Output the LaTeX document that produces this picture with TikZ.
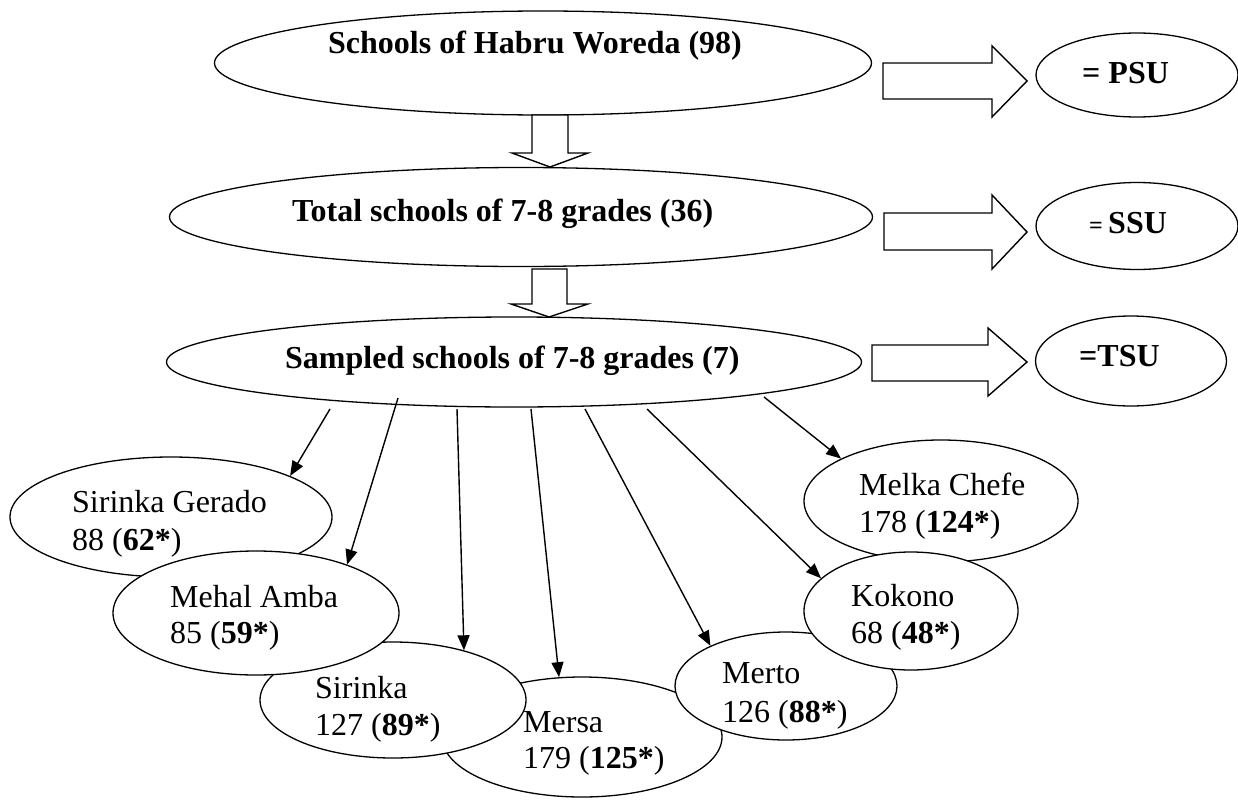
\documentclass[tikz,border=0pt]{standalone}
\usepackage{fontspec}
\setmainfont{Liberation Serif}
\usetikzlibrary{shapes.geometric,arrows.meta}
\tikzset{
  ell/.style={draw, ellipse, fill=white, line width=1.3pt, inner sep=0pt},
  blk/.style={draw, fill=white, line width=1.4pt, line join=miter},
  big/.style={inner sep=0pt, anchor=base west, font=\fontsize{32}{38}\selectfont\bfseries},
  lbl/.style={inner sep=0pt, anchor=base west, font=\fontsize{32}{38}\selectfont},
  con/.style={line width=1.4pt, -{Triangle[length=15pt,width=12pt]}}
}
\begin{document}
\begin{tikzpicture}[x=1pt,y=-1pt]
\useasboundingbox (0,0) rectangle (1238,800);
% main ellipses
\node[ell, minimum width=657pt, minimum height=104pt] (top) at (543,63) {};
\node[big] (toptxt) at (328,53) {Schools of Habru Woreda (98)};
\node[ell, minimum width=703pt, minimum height=99pt] (tot) at (521,217) {};
\node[big] (tottxt) at (292,221) {Total schools of 7-8 grades (36)};
\node[ell, minimum width=695pt, minimum height=90pt] (samp) at (514,362) {};
\node[big] (samptxt) at (285,368) {Sampled schools of 7-8 grades (7)};
% unit ellipses
\node[ell, minimum width=202pt, minimum height=84pt] (psu) at (1137,75) {};
\node[big] (psutxt) at (1082,83) {= PSU};
\node[ell, minimum width=202pt, minimum height=87pt] (ssu) at (1137,226) {};
\node[big] (ssutxt) at (1089,233) {{\fontsize{24}{28}\selectfont=}\,SSU};
\node[ell, minimum width=191pt, minimum height=90pt] (tsu) at (1131,361) {};
\node[big] (tsutxt) at (1079,366) {=TSU};
% block arrows down
\draw[blk] (532,115) -- (568,115) -- (568,153) -- (588,153) -- (550,167) -- (512,153) -- (532,153) -- cycle;
\draw[blk] (532,269) -- (567,269) -- (567,304) -- (588,304) -- (549,317) -- (511,304) -- (532,304) -- cycle;
% block arrows right
\draw[blk] (883,63) -- (992,63) -- (992,46) -- (1027,81) -- (992,117) -- (992,99) -- (883,99) -- cycle;
\draw[blk] (884,213) -- (992,213) -- (992,195) -- (1027,232) -- (992,269) -- (992,250) -- (884,250) -- cycle;
\draw[blk] (872,345) -- (988,345) -- (988,328) -- (1027,362) -- (988,396) -- (988,381) -- (872,381) -- cycle;
% schools
\node[ell, minimum width=322pt, minimum height=120pt] (sg) at (171,517) {};
\node[lbl] (sg1) at (72,512) {Sirinka Gerado};
\node[lbl] (sg2) at (72,550) {88 (\textbf{62*})};
\node[ell, minimum width=280pt, minimum height=120pt] (mersa) at (582,737) {};
\node[lbl] (me1) at (523,732) {Mersa};
\node[lbl] (me2) at (523,768) {179 (\textbf{125*})};
\node[ell, minimum width=266pt, minimum height=116pt] (sir) at (393,700) {};
\node[lbl] (si1) at (315,698) {Sirinka};
\node[lbl] (si2) at (315,735) {127 (\textbf{89*})};
\node[ell, minimum width=286pt, minimum height=124pt] (ma) at (256,613) {};
\node[lbl] (ma1) at (170,607) {Mehal Amba};
\node[lbl] (ma2) at (170,643) {85 (\textbf{59*})};
\node[ell, minimum width=274pt, minimum height=122pt] (mc) at (941,501) {};
\node[lbl] (mc1) at (859,495) {Melka Chefe};
\node[lbl] (mc2) at (859,532) {178 (\textbf{124*})};
\node[ell, minimum width=222pt, minimum height=108pt] (mer) at (786,686) {};
\node[lbl] (mt1) at (722,683) {Merto};
\node[lbl] (mt2) at (722,722) {126 (\textbf{88*})};
\node[ell, minimum width=214pt, minimum height=118pt] (kok) at (911,611) {};
\node[lbl] (ko1) at (851,606) {Kokono};
\node[lbl] (ko2) at (851,643) {68 (\textbf{48*})};
% connector start points
\coordinate (s1) at (330,409);
\coordinate (s2) at (398,398);
\coordinate (s3) at (457,409);
\coordinate (s4) at (531,409);
\coordinate (s5) at (585,409);
\coordinate (s6) at (647,409);
\coordinate (s7) at (764,397);
\draw[con] (s1) -- (sg.19);
\draw[con] (s2) -- (ma.28.8);
\draw[con] (s3) -- (sir.35.1);
\draw[con] (s4) -- (mersa.111.2);
\draw[con] (s5) -- (mer.152);
\draw[con] (s6) -- (kok.160.1);
\draw[con] (s7) -- (mc.157.8);
\end{tikzpicture}
\end{document}
